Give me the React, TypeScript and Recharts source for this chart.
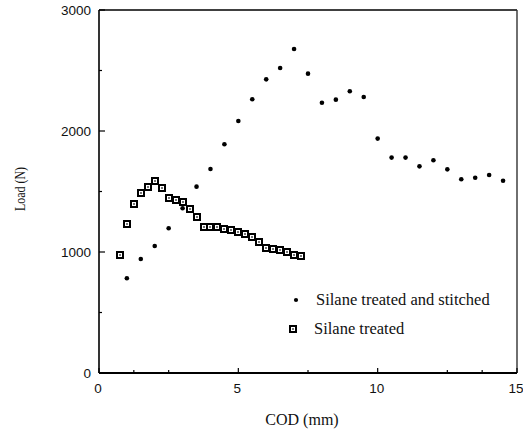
import {
  ScatterChart,
  Scatter,
  XAxis,
  YAxis,
  ReferenceLine,
  Legend,
} from "recharts";

// COD (mm) / Load (N)
const stitchedCod = [1.0, 1.5, 2.0, 2.5, 3.0, 3.5, 4.0, 4.5, 5.0, 5.5, 6.0, 6.5, 7.0, 7.5, 8.0, 8.5, 9.0, 9.5, 10.0, 10.5, 11.0, 11.5, 12.0, 12.5, 13.0, 13.5, 14.0, 14.5];
const stitchedLoad = [783, 942, 1050, 1196, 1361, 1540, 1686, 1890, 2083, 2262, 2427, 2521, 2678, 2474, 2234, 2259, 2328, 2281, 1937, 1780, 1780, 1708, 1758, 1683, 1601, 1614, 1636, 1589];

const silaneCod = [0.75, 1.0, 1.25, 1.5, 1.75, 2.0, 2.25, 2.5, 2.75, 3.0, 3.25, 3.5, 3.75, 4.0, 4.25, 4.5, 4.75, 5.0, 5.25, 5.5, 5.75, 6.0, 6.25, 6.5, 6.75, 7.0, 7.25];
const silaneLoad = [978, 1231, 1399, 1485, 1540, 1589, 1529, 1446, 1430, 1411, 1353, 1292, 1207, 1207, 1207, 1193, 1179, 1168, 1149, 1121, 1085, 1033, 1025, 1014, 1000, 975, 967];

const xTicks = [0, 1.25, 2.5, 5, 7.5, 10, 12.5, 13.75, 15];
const xLabels = [0, 5, 10, 15];
const yTicks = [0, 500, 1000, 1500, 2000, 2500, 3000];
const yLabels = [0, 1000, 2000, 3000];

const stitched = stitchedCod.map((x, i) => ({ x, y: stitchedLoad[i] }));
const silane = silaneCod.map((x, i) => ({ x, y: silaneLoad[i] }));

const tickFont = "'Liberation Sans', Arial, sans-serif";
const serif = "'Liberation Serif', 'Times New Roman', serif";

const Dot = (p: any) => <circle cx={p.cx} cy={p.cy} r={2.3} fill="#000" />;

// bold square with a small grey centre, like the scanned marker
const Box = (p: any) => {
  const x = Math.round(p.cx) - 4;
  const y = Math.round(p.cy) - 4;
  return (
    <g>
      <rect x={x} y={y} width={8} height={8} fill="#000" />
      <rect x={x + 2} y={y + 2} width={4} height={4} fill="#fff" />
      <rect x={x + 3} y={y + 3} width={2} height={2} fill="#777" />
    </g>
  );
};

const XTick = (p: any) => {
  const major = xLabels.includes(p.payload.value);
  return (
    <g>
      <line x1={p.x} x2={p.x} y1={p.y} y2={p.y - (major ? 5 : 3)} stroke="#000" strokeWidth={1.2} />
      {major && (
        <text x={p.x - 1} y={p.y + 20} textAnchor="middle" fontSize={13.5} fontFamily={tickFont} fill="#111">
          {p.payload.value}
        </text>
      )}
    </g>
  );
};

const YTick = (p: any) => {
  const major = yLabels.includes(p.payload.value);
  return (
    <g>
      <line x1={p.x} x2={p.x + (major ? 6 : 3)} y1={p.y} y2={p.y} stroke="#000" strokeWidth={1.2} />
      {major && (
        <text x={p.x - 8} y={p.y + 5} textAnchor="end" fontSize={13.5} fontFamily={tickFont} fill="#111">
          {p.payload.value}
        </text>
      )}
    </g>
  );
};

function LegendBox() {
  return (
    <svg width={235} height={56}>
      <circle cx={11} cy={12} r={2.1} fill="#000" />
      <text x={31} y={17} fontSize={16.5} fontFamily={serif} fill="#111">Silane treated and stitched</text>
      <rect x={4} y={37} width={8} height={8} fill="#000" />
      <rect x={6} y={39} width={4} height={4} fill="#fff" />
      <rect x={7} y={40} width={2} height={2} fill="#777" />
      <text x={29} y={46} fontSize={16.5} fontFamily={serif} fill="#111">Silane treated</text>
    </svg>
  );
}

export default function App() {
  return (
    <div style={{ position: "absolute", left: 0, top: 0, background: "#fff" }}>
      <ScatterChart width={523} height={431} margin={{ top: 10, right: 6, bottom: 0, left: 0 }}>
        <XAxis
          type="number"
          dataKey="x"
          domain={[0, 15]}
          ticks={xTicks}
          interval={0}
          height={58}
          tickSize={0}
          tickMargin={0}
          tick={<XTick />}
          axisLine={{ stroke: "#000", strokeWidth: 2 }}
          label={{
            value: "COD (mm)",
            content: () => (
              <text x={302} y={425} textAnchor="middle" fontSize={16} fontFamily={serif} fill="#111">
                COD (mm)
              </text>
            ),
          }}
        />
        <YAxis
          type="number"
          dataKey="y"
          domain={[0, 3000]}
          ticks={yTicks}
          interval={0}
          width={99}
          tickSize={0}
          tickMargin={0}
          tick={<YTick />}
          axisLine={{ stroke: "#000", strokeWidth: 1.6 }}
          label={{
            value: "Load (N)",
            content: () => (
              <text
                x={25}
                y={189}
                transform="rotate(-90 25 189)"
                textAnchor="middle"
                fontSize={15}
                textLength={44}
                lengthAdjust="spacingAndGlyphs"
                fontFamily={serif}
                fill="#111"
              >
                Load (N)
              </text>
            ),
          }}
        />
        <ReferenceLine y={3000} stroke="#000" strokeWidth={1.6} />
        <ReferenceLine x={15} stroke="#333" strokeWidth={1.4} />
        <Legend
          layout="vertical"
          align="center"
          verticalAlign="middle"
          wrapperStyle={{ left: 285, top: 288, width: 235 }}
          content={() => <LegendBox />}
        />
        <Scatter name="Silane treated and stitched" data={stitched} shape={<Dot />} isAnimationActive={false} />
        <Scatter name="Silane treated" data={silane} shape={<Box />} isAnimationActive={false} />
      </ScatterChart>
    </div>
  );
}
